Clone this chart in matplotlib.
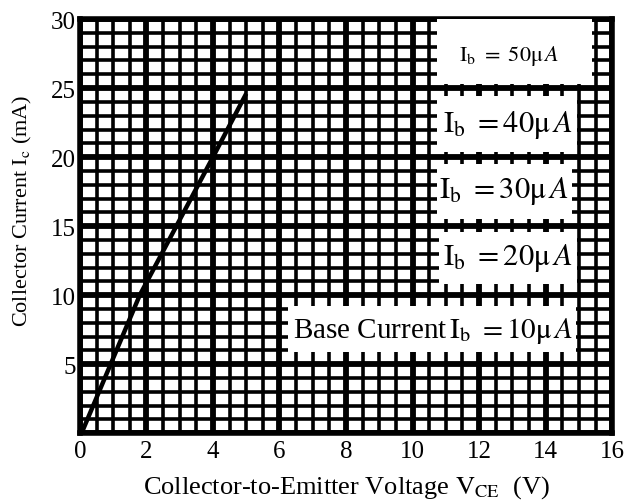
import numpy as np
import matplotlib.pyplot as plt
from matplotlib.patches import Rectangle

plt.rcParams['font.family'] = ['Liberation Serif', 'DejaVu Serif']
plt.rcParams['mathtext.fontset'] = 'stix'

# load line (V, mA)
vce = [0.05, 1.8, 4.0, 5.0]
ic = [0.0, 10.0, 20.0, 24.6]

# base-current labels: text, centre (V, mA), box (x0, x1, y0, y1), font size
labels = [r'$\mathrm{I_b}\ =\ 50\mathrm{\mu}\,A$',
          r'$\mathrm{I_b}\ =40\mathrm{\mu}\,A$',
          r'$\mathrm{I_b}\ =30\mathrm{\mu}\,A$',
          r'$\mathrm{I_b}\ =20\mathrm{\mu}\,A$',
          r'Base Current$\,\mathrm{I_b}\ =10\mathrm{\mu}\,A$']
label_xy = [(12.9, 27.4), (12.85, 22.4), (12.75, 17.6), (12.85, 12.8), (10.6, 7.5)]
label_box = [(10.75, 15.4, 25.3, 30.0), (10.75, 14.95, 20.4, 24.4),
             (10.75, 14.8, 15.5, 19.5), (10.8, 14.95, 10.8, 14.6),
             (6.25, 14.9, 5.9, 9.2)]
label_size = [16, 22, 22, 22, 21]

fig = plt.figure(figsize=(6.24, 5.02), dpi=100)
ax = fig.add_axes([0.128, 0.135, 0.853, 0.825])

ax.set_xlim(0, 16)
ax.set_ylim(0, 30)
ax.set_xticks(np.arange(0, 17, 2))
ax.set_xticks(np.arange(0, 16.1, 0.5), minor=True)
ax.set_yticks(np.arange(0, 31, 5))
ax.set_yticklabels([''] + [str(v) for v in range(5, 31, 5)])
ax.set_yticks(np.arange(0, 31, 1), minor=True)
ax.tick_params(which='both', length=0, labelsize=18)
ax.tick_params(axis='x', pad=5)
ax.tick_params(axis='y', pad=3)
ax.set_axisbelow(True)
ax.grid(which='major', color='black', lw=4.2)
ax.grid(which='minor', color='black', lw=2.6)
for s in ax.spines.values():
    s.set_linewidth(4)

ax.plot(vce, ic, color='black', lw=3.2, zorder=3, solid_capstyle='butt')

for txt, (tx, ty), (x0, x1, y0, y1), fs in zip(labels, label_xy, label_box, label_size):
    ax.add_patch(Rectangle((x0, y0), x1 - x0, y1 - y0, facecolor='white',
                           edgecolor='none', zorder=4))
    ax.text(tx, ty, txt, fontsize=fs, ha='center', va='center', zorder=5)

ax.set_xlabel(r'Collector-to-Emitter Voltage $\mathrm{V_{CE}}$  (V)', fontsize=19, labelpad=8)
ax.set_ylabel(r'Collector Current I$_\mathrm{c}$ (mA)', fontsize=16)
ax.yaxis.set_label_coords(-0.086, 0.54)

fig.savefig('out.png', dpi=100)
